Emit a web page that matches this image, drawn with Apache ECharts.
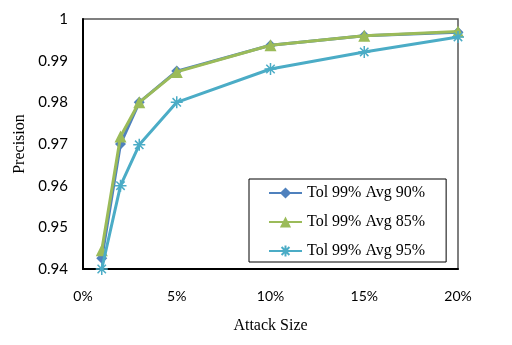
<!DOCTYPE html>
<html><head><meta charset="utf-8">
<script src="https://cdn.jsdelivr.net/npm/echarts@6/dist/echarts.min.js"></script>
<style>html,body{margin:0;padding:0;background:#fff}#c{width:512px;height:345px}</style>
</head><body><div id="c"></div>
<script>
const attackSize = [1, 2, 3, 5, 10, 15, 20];
const seriesNames = ['Tol 99% Avg 90%', 'Tol 99% Avg 85%', 'Tol 99% Avg 95%'];
const avg90 = [0.9426, 0.9700, 0.9800, 0.9875, 0.9937, 0.9960, 0.9968];
const avg85 = [0.9445, 0.9718, 0.9800, 0.9873, 0.9937, 0.9960, 0.9970];
const avg95 = [0.9400, 0.9600, 0.9698, 0.9800, 0.9880, 0.9921, 0.9957];
const colors = ['#4F81BD', '#9BBB59', '#4BACC6'];
const symbols = ['diamond', 'triangle', 'path://M0,5L10,5M5,0L5,10M1.5,1.5L8.5,8.5M8.5,1.5L1.5,8.5'];
const valuesList = [avg90, avg85, avg95];

const chart = echarts.init(document.getElementById('c'), null, {renderer: 'canvas'});
const series = valuesList.map((vals, i) => ({
  name: seriesNames[i],
  type: 'line',
  data: attackSize.map((x, j) => [x, vals[j]]),
  symbol: symbols[i],
  symbolSize: i === 2 ? 12 : (i === 1 ? 12 : 11),
  showSymbol: true,
  lineStyle: {color: colors[i], width: 3},
  itemStyle: i === 2 ? {color: '#fff', borderColor: colors[i], borderWidth: 1.5} : {color: colors[i], borderWidth: 0},
  emphasis: {disabled: true},
  animation: false,
  z: 2 + i
}));

chart.setOption({
  animation: false,
  grid: {left: 83, right: 54, top: 19, bottom: 76, show: true, borderColor: '#555', borderWidth: 1.5},
  legend: {
    orient: 'vertical', left: 249, top: 179,
    data: seriesNames,
    itemWidth: 33, itemHeight: 14, itemGap: 13,
    padding: [6, 21, 3, 19],
    borderColor: '#000', borderWidth: 1,
    textStyle: {fontFamily: 'Liberation Serif', fontSize: 16, color: '#000'},
    selectedMode: false
  },
  xAxis: {
    type: 'value', min: 0, max: 20, interval: 5,
    name: 'Attack Size', nameLocation: 'middle', nameGap: 49,
    nameTextStyle: {fontFamily: 'Liberation Serif', fontSize: 16, color: '#000'},
    axisLine: {show: true, lineStyle: {color: '#000', width: 2}},
    axisTick: {show: false},
    splitLine: {show: false},
    axisLabel: {formatter: v => v + '%', margin: 20, fontFamily: 'Lato', fontSize: 14, color: '#000'}
  },
  yAxis: {
    type: 'value', min: 0.94, max: 1, interval: 0.01,
    name: 'Precision', nameLocation: 'middle', nameGap: 47, nameRotate: 90,
    nameTextStyle: {fontFamily: 'Liberation Serif', fontSize: 16, color: '#000'},
    axisLine: {show: true, lineStyle: {color: '#000', width: 2}},
    axisTick: {show: false},
    splitLine: {show: false},
    axisLabel: {formatter: v => String(parseFloat(v.toFixed(2))), margin: 15, fontFamily: 'Lato', fontSize: 15, color: '#000'}
  },
  series: series
});
</script></body></html>
